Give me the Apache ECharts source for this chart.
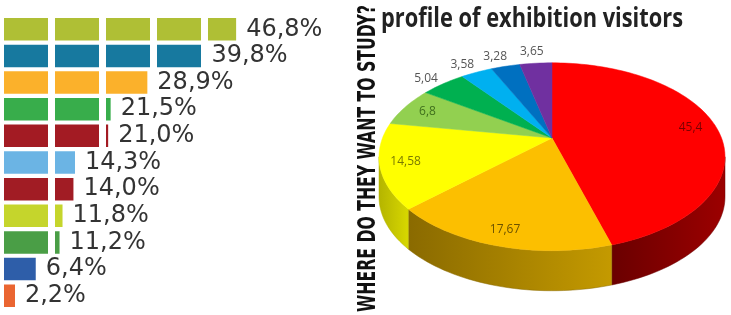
<!DOCTYPE html>
<html>
<head>
<meta charset="utf-8">
<script src="https://cdn.jsdelivr.net/npm/echarts@6/dist/echarts.min.js"></script>
<style>
  html, body { margin: 0; padding: 0; background: #fff; }
  #main { width: 731px; height: 315px; }
</style>
</head>
<body>
<div id="main"></div>
<script>
// left: where do they want to study (percent)
var rows = ['1', '2', '3', '4', '5', '6', '7', '8', '9', '10', '11'];
var shares = [46.8, 39.8, 28.9, 21.5, 21.0, 14.3, 14.0, 11.8, 11.2, 6.4, 2.2];
// right: profile of exhibition visitors
var profileValues = [45.4, 17.67, 14.58, 6.8, 5.04, 3.58, 3.28, 3.65];

var barColors = ['#afbf35', '#17799f', '#fbb12b', '#38ad4b', '#a31b23', '#6bb4e4',
  '#a11c24', '#c5d52c', '#4a9e46', '#2e5ea9', '#ea6531'];
var sliceTop = ['#ff0000', '#fcbf00', '#ffff00', '#92d050', '#00b050', '#00b0f0', '#0070c0', '#7030a0'];
var sliceSide = [['#9c0000', '#6a0000'], ['#c49a00', '#8a6a00'], ['#d8d800', '#b4b400'],
  ['#6a9a3a', '#5a8a30'], ['#008040', '#007038'], ['#0080b0', '#0070a0'], ['#005090', '#004080'], ['#502078', '#401868']];
var labelColors = ['#7a0000', '#6b5200', '#7a7a00', '#3f6f1c', '#555', '#555', '#555', '#555'];

function fmt(v) { return String(v).replace('.', ','); }

// squeeze a text to a given width (the original uses a condensed face)
function fitScale(text, font, width) {
  var ctx = document.createElement('canvas').getContext('2d');
  ctx.font = font;
  return width / ctx.measureText(text).width;
}

(function () {
  var myChart = echarts.init(document.getElementById('main'));

  // pie geometry, slight perspective: k > 0 pushes the back half away
  var cx = 552, cy = 138, rx = 169.5, ry = 90.2, k = 0.2, depth = 40;
  var total = profileValues.reduce(function (a, b) { return a + b; }, 0);
  var starts = [];
  var acc = 0;
  profileValues.forEach(function (v) { starts.push(acc / total * Math.PI * 2); acc += v; });

  // angle a clockwise from 12 o'clock
  function proj(a, dy) {
    var X = Math.sin(a), Z = Math.cos(a), w = 1 + k * Z;
    return [cx + rx * X / w, cy - ry * Z / w + (dy || 0)];
  }
  function arc(a0, a1, dy) {
    var pts = [];
    var n = Math.max(2, Math.ceil((a1 - a0) / 0.03));
    for (var j = 0; j <= n; j++) pts.push(proj(a0 + (a1 - a0) * j / n, dy));
    return pts;
  }
  var sideFrom = Math.acos(-k), sideTo = Math.PI * 2 - Math.acos(-k);

  function renderSlice(params, api) {
    var i = params.dataIndex;
    var v = api.value(0);
    var a0 = starts[i];
    var a1 = a0 + v / total * Math.PI * 2;
    var children = [];
    // side wall (front part only)
    var s = Math.max(a0, sideFrom), e = Math.min(a1, sideTo);
    if (s < e) {
      var pts = arc(s, e, 0).concat(arc(s, e, depth).reverse());
      children.push({
        type: 'polygon',
        shape: { points: pts },
        style: {
          fill: new echarts.graphic.LinearGradient(1, 0, 0, 0, [
            { offset: 0, color: sliceSide[i][0] },
            { offset: 1, color: sliceSide[i][1] }
          ]),
          stroke: sliceSide[i][1], lineWidth: 0.5
        }
      });
    }
    // top face
    var top = [[cx, cy]].concat(arc(a0, a1, 0));
    children.push({
      type: 'polygon',
      shape: { points: top },
      style: { fill: sliceTop[i], stroke: sliceTop[i], lineWidth: 0.5 }
    });
    // value label
    var mid = (a0 + a1) / 2;
    var q = proj(mid, 0);
    var p;
    if (v < 6) {
      var dx = q[0] - cx, dy = q[1] - cy, len = Math.sqrt(dx * dx + dy * dy);
      dx /= len; dy /= len;
      p = [q[0] + dx * 6 + dx * 13, q[1] + dy * 6 + dy * 6];
    } else {
      p = [cx + (q[0] - cx) * 0.85, cy + (q[1] - cy) * 0.85];
    }
    children.push({
      type: 'text',
      x: p[0], y: p[1], z2: 10,
      style: {
        text: fmt(v), fill: labelColors[i],
        font: '12px "Open Sans", sans-serif',
        align: 'center', verticalAlign: 'middle'
      }
    });
    return { type: 'group', children: children };
  }

  var sideText = 'WHERE DO THEY WANT TO STUDY?';
  var sideFont = 'bold 24px "DejaVu Sans Condensed", sans-serif';
  var titleText = 'profile of exhibition visitors';
  var titleFont = 'bold 26px "Open Sans", sans-serif';

  var option = {
    backgroundColor: '#fff',
    animation: false,
    grid: { left: 4, width: 248, top: 16, bottom: 6 },
    xAxis: { type: 'value', min: 0, max: 50, show: false },
    yAxis: { type: 'category', data: rows, inverse: true, show: false },
    graphic: [
      {
        type: 'text',
        x: 369, y: 158.5,
        rotation: Math.PI / 2,
        scaleX: fitScale(sideText, sideFont, 307),
        style: {
          text: sideText, font: sideFont,
          fill: '#111', align: 'center', verticalAlign: 'middle'
        }
      },
      {
        type: 'text',
        x: 381, y: 20,
        scaleX: fitScale(titleText, titleFont, 302),
        style: {
          text: titleText, font: titleFont,
          fill: '#222', align: 'left', verticalAlign: 'middle'
        }
      }
    ],
    series: [
      {
        type: 'pictorialBar',
        symbol: 'rect',
        symbolRepeat: 5,
        symbolClip: true,
        symbolBoundingData: 50,
        symbolSize: [44, 22.5],
        data: shares.map(function (v, i) {
          return { value: v, itemStyle: { color: barColors[i] } };
        }),
        silent: true
      },
      {
        type: 'bar',
        barWidth: 22,
        silent: true,
        itemStyle: { color: 'rgba(0,0,0,0)' },
        label: {
          show: true,
          position: 'right',
          distance: 10,
          color: '#333',
          fontSize: 24,
          fontFamily: 'DejaVu Sans',
          formatter: function (p) { return p.value.toFixed(1).replace('.', ',') + '%'; }
        },
        data: shares
      },
      {
        type: 'custom',
        coordinateSystem: 'none',
        renderItem: renderSlice,
        data: profileValues,
        silent: true
      }
    ]
  };
  myChart.setOption(option);
  window.addEventListener('resize', function () { myChart.resize(); });
})();
</script>
</body>
</html>
